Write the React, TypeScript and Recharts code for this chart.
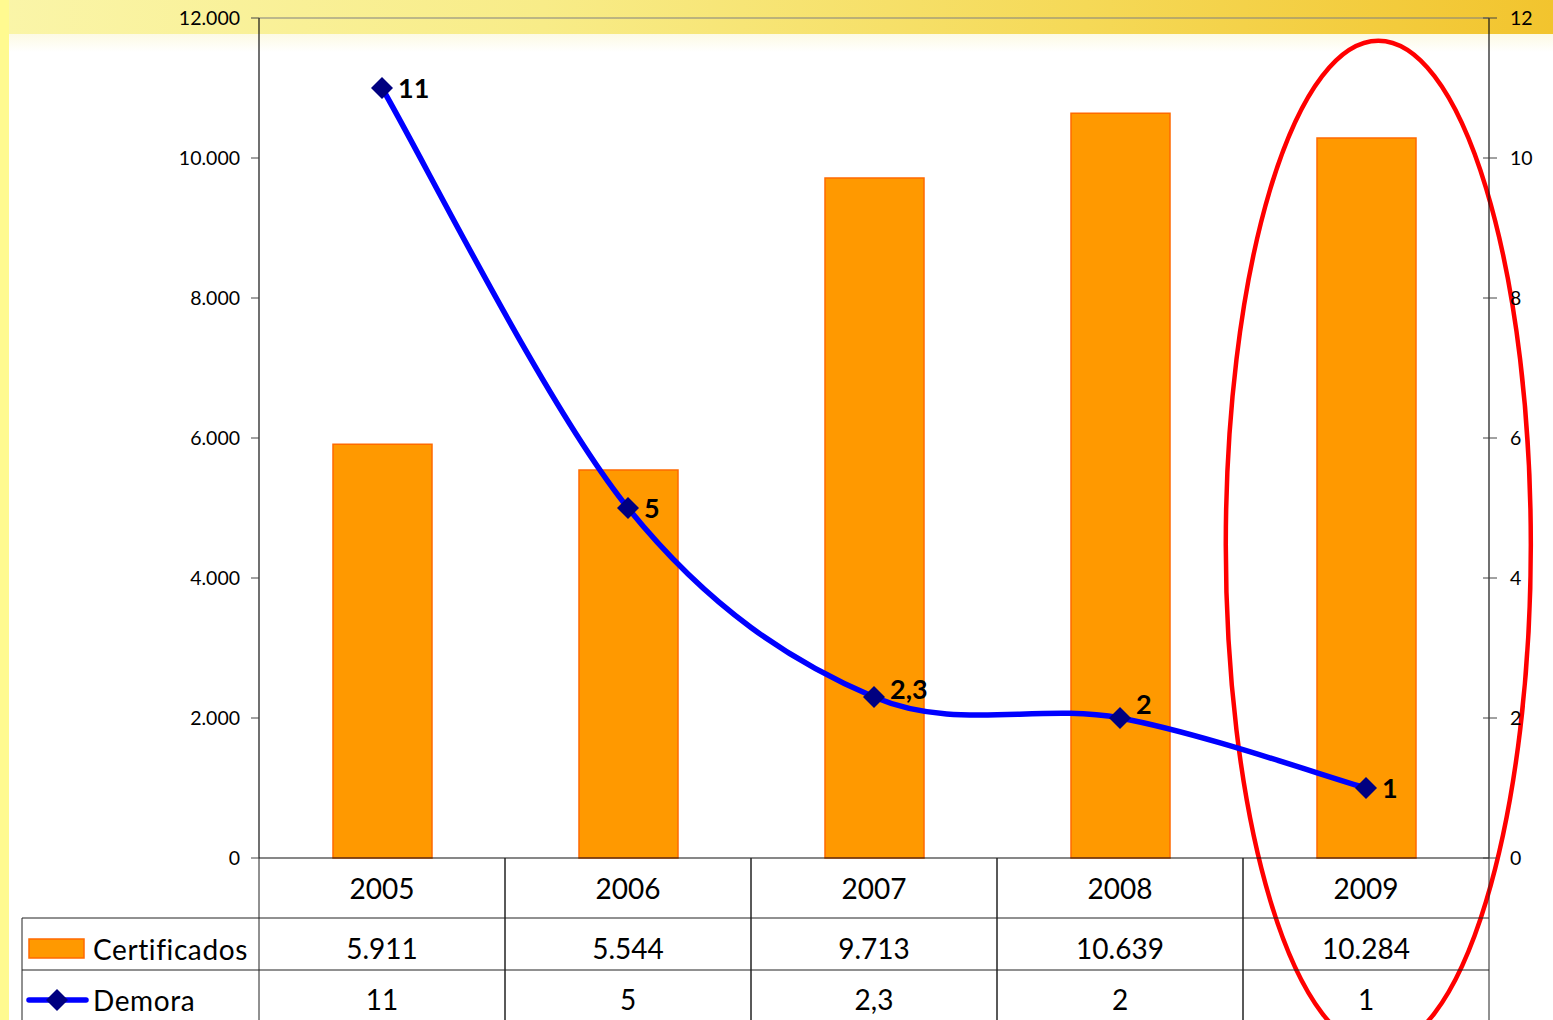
import React from 'react';
import {
  ComposedChart,
  Bar,
  Line,
  XAxis,
  YAxis,
  ReferenceArea,
  ReferenceLine,
  LabelList,
} from 'recharts';

const years = ['2005', '2006', '2007', '2008', '2009'];
const certificados = [5911, 5544, 9713, 10639, 10284];
const demora = [11, 5, 2.3, 2, 1];
const leftTicks = [0, 2000, 4000, 6000, 8000, 10000, 12000];
const rightTicks = [0, 2, 4, 6, 8, 10, 12];
const seriesNames = ['Certificados', 'Demora'];

const data = years.map((y, i) => ({ year: y, certificados: certificados[i], demora: demora[i] }));

const FONT = 'Lato, "Open Sans", sans-serif';
const ORANGE = '#FF9900';
const ORANGE_EDGE = '#FF6A00';
const BLUE = '#0000FF';
const NAVY = '#000080';
const GRID = '#222';
const TABLE_FS = 28;

const thousands = (n: number) => String(n).replace(/\B(?=(\d{3})+(?!\d))/g, '.');
const decimal = (n: number) => String(n).replace('.', ',');

// Excel-like smoothed line (Catmull-Rom style Bezier)
const excelSmooth: any = (context: any) => {
  let pts: number[][] = [];
  return {
    areaStart() {},
    areaEnd() {},
    lineStart() {
      pts = [];
    },
    point(x: number, y: number) {
      pts.push([+x, +y]);
    },
    lineEnd() {
      const n = pts.length;
      if (!n) return;
      context.moveTo(pts[0][0], pts[0][1]);
      for (let i = 0; i < n - 1; i++) {
        const p0 = pts[Math.max(0, i - 1)];
        const p1 = pts[i];
        const p2 = pts[i + 1];
        const p3 = pts[Math.min(n - 1, i + 2)];
        context.bezierCurveTo(
          p1[0] + (p2[0] - p0[0]) / 6,
          p1[1] + (p2[1] - p0[1]) / 6,
          p2[0] - (p3[0] - p1[0]) / 6,
          p2[1] - (p3[1] - p1[1]) / 6,
          p2[0],
          p2[1]
        );
      }
    },
  };
};

const Diamond = (props: any) => {
  const { cx, cy } = props;
  if (cx == null || cy == null) return null;
  const r = 11;
  return <path d={`M${cx},${cy - r}L${cx + r},${cy}L${cx},${cy + r}L${cx - r},${cy}Z`} fill={NAVY} />;
};

const labelNudge = [0, 0, -8, -14, 0];
const DemoraLabel = (props: any) => {
  const { x, y, value, index } = props;
  return (
    <text
      x={x + 16}
      y={y + (labelNudge[index] || 0)}
      dy="0.36em"
      textAnchor="start"
      fontSize={27}
      fontWeight={700}
      fill="#000"
      fontFamily={FONT}
    >
      {decimal(value)}
    </text>
  );
};

const RightTick = (props: any) => {
  const { x, y, payload } = props;
  const axisX = x - 8 - 13;
  return (
    <g>
      <line x1={axisX - 6} x2={axisX + 8} y1={y} y2={y} stroke="#444" strokeWidth={1} />
      <text x={x} y={y} dy="0.36em" textAnchor="start" fontSize={19.5} fill="#000" fontFamily={FONT}>
        {payload.value}
      </text>
    </g>
  );
};

const TableTick = (props: any) => {
  const { x, y, payload, index } = props;
  const half = payload && payload.offset ? payload.offset : 123;
  const i = typeof index === 'number' ? index : years.indexOf(payload.value);
  const left = x - half;
  const right = x + half;
  const top = y;
  return (
    <g>
      <line x1={left} x2={left} y1={top} y2={top + 170} stroke={GRID} strokeWidth={1} />
      <line x1={right} x2={right} y1={top} y2={top + 170} stroke={GRID} strokeWidth={1} />
      <line x1={left} x2={right} y1={top + 60} y2={top + 60} stroke={GRID} strokeWidth={1} />
      <line x1={left} x2={right} y1={top + 112} y2={top + 112} stroke={GRID} strokeWidth={1} />
      <text x={x} y={top + 31} dy="0.36em" textAnchor="middle" fontSize={TABLE_FS} fill="#000" fontFamily={FONT}>
        {payload.value}
      </text>
      <text x={x} y={top + 91} dy="0.36em" textAnchor="middle" fontSize={TABLE_FS} fill="#000" fontFamily={FONT}>
        {thousands(certificados[i])}
      </text>
      <text x={x} y={top + 142} dy="0.36em" textAnchor="middle" fontSize={TABLE_FS} fill="#000" fontFamily={FONT}>
        {decimal(demora[i])}
      </text>
    </g>
  );
};

const EllipseShape = (props: any) => {
  const { x, y, width, height } = props;
  if (x == null) return null;
  return (
    <ellipse
      cx={x + width * 0.55}
      cy={y + height * 0.627}
      rx={width * 0.62}
      ry={height * 0.6}
      fill="none"
      stroke="#FF0000"
      strokeWidth={4.5}
    />
  );
};

export default function App() {
  return (
    <div
      style={{
        position: 'absolute',
        left: 0,
        top: 0,
        width: 1553,
        height: 1020,
        overflow: 'hidden',
        background: '#ffffff',
        fontFamily: FONT,
      }}
    >
      {/* slide background */}
      <div
        style={{
          position: 'absolute',
          left: 0,
          top: 0,
          width: 1553,
          height: 34,
          background: 'linear-gradient(90deg, #FAF5A8 0%, #F8EC88 35%, #F5D957 70%, #F2C42E 100%)',
        }}
      />
      <div
        style={{
          position: 'absolute',
          left: 0,
          top: 34,
          width: 1553,
          height: 18,
          background: 'linear-gradient(180deg, rgba(250,245,200,0.5), rgba(255,255,255,0))',
        }}
      />
      <div
        style={{
          position: 'absolute',
          left: 0,
          top: 0,
          width: 9,
          height: 1020,
          background: '#FFFA90',
        }}
      />

      {/* legend column of the data table */}
      <svg width={1553} height={1020} style={{ position: 'absolute', left: 0, top: 0 }}>
        <line x1={22} x2={259} y1={918} y2={918} stroke={GRID} strokeWidth={1} />
        <line x1={22} x2={259} y1={970} y2={970} stroke={GRID} strokeWidth={1} />
        <line x1={22} x2={22} y1={918} y2={1020} stroke={GRID} strokeWidth={1} />
        <rect x={29} y={939} width={55} height={19} fill={ORANGE} stroke={ORANGE_EDGE} strokeWidth={1.5} />
        <text x={93} y={950} dy="0.36em" fontSize={TABLE_FS} letterSpacing={0.6} fill="#000" fontFamily={FONT}>
          {seriesNames[0]}
        </text>
        <line x1={29} x2={86} y1={1000} y2={1000} stroke={BLUE} strokeWidth={5.5} strokeLinecap="round" />
        <Diamond cx={57} cy={1000} />
        <text x={93} y={1001} dy="0.36em" fontSize={TABLE_FS} letterSpacing={0.6} fill="#000" fontFamily={FONT}>
          {seriesNames[1]}
        </text>
      </svg>

      <div style={{ position: 'absolute', left: 0, top: 0 }}>
        <ComposedChart
          width={1553}
          height={1020}
          data={data}
          margin={{ top: 18, right: 0, bottom: 0, left: 0 }}
          barCategoryGap="30%"
        >
          <XAxis
            dataKey="year"
            height={162}
            interval={0}
            tickLine={false}
            tickSize={0}
            tickMargin={0}
            axisLine={{ stroke: '#111', strokeWidth: 1.2 }}
            tick={<TableTick />}
          />
          <YAxis
            yAxisId="left"
            width={259}
            domain={[0, 12000]}
            ticks={leftTicks}
            interval={0}
            tickSize={8}
            tickMargin={11}
            axisLine={{ stroke: '#111', strokeWidth: 1.2 }}
            tickLine={{ stroke: '#444' }}
            tick={{ fill: '#000', fontSize: 19.5, fontFamily: FONT }}
            tickFormatter={(v: number) => thousands(v)}
          />
          <YAxis
            yAxisId="right"
            orientation="right"
            width={64}
            domain={[0, 12]}
            ticks={rightTicks}
            interval={0}
            tickSize={8}
            tickMargin={13}
            tickLine={false}
            axisLine={{ stroke: '#111', strokeWidth: 1.2 }}
            tick={<RightTick />}
          />
          <ReferenceLine yAxisId="left" y={12000} stroke="#808080" strokeWidth={1.2} />
          <Bar
            yAxisId="left"
            dataKey="certificados"
            fill={ORANGE}
            stroke={ORANGE_EDGE}
            strokeWidth={1.5}
            barSize={99}
            isAnimationActive={false}
          />
          <Line
            yAxisId="right"
            dataKey="demora"
            type={excelSmooth}
            stroke={BLUE}
            strokeWidth={5.5}
            dot={<Diamond />}
            activeDot={false}
            isAnimationActive={false}
          >
            <LabelList dataKey="demora" content={<DemoraLabel />} />
          </Line>
          <ReferenceArea
            yAxisId="left"
            x1="2009"
            x2="2009"
            y1={0}
            y2={12000}
            ifOverflow="visible"
            shape={<EllipseShape />}
          />
        </ComposedChart>
      </div>
    </div>
  );
}
